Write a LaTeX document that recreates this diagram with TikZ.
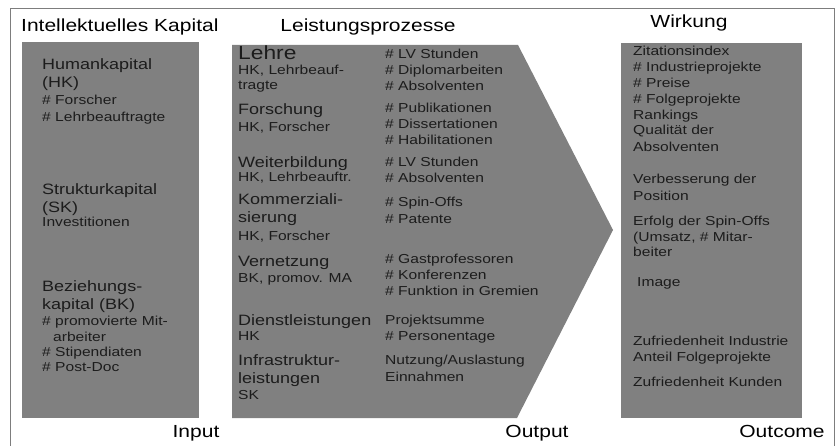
\documentclass[tikz,border=0pt]{standalone}
\usepackage{fontspec}
\setmainfont{Liberation Sans}[FakeStretch=1.2]
\usepackage{tikz}
\definecolor{feldgrau}{RGB}{128,128,128}
\definecolor{rahmengrau}{RGB}{125,125,125}
\definecolor{schrift}{RGB}{28,28,28}
\newcommand{\zeilen}[1]{\begin{tabular}[t]{@{}l@{}}#1\end{tabular}}
\tikzset{
  feld/.style={fill=feldgrau},
  rahmen/.style={draw=rahmengrau,line width=1pt},
  titel/.style={anchor=base,inner sep=0pt,text=black,font=\fontsize{17.5}{21}\selectfont},
  kopf/.style={anchor=base west,inner sep=0pt,text=schrift,font=\fontsize{15}{18}\selectfont},
  eintrag/.style={anchor=base west,inner sep=0pt,text=schrift,font=\fontsize{13}{#1}\selectfont},
  eintrag/.default=16,
}

\begin{document}
\begin{tikzpicture}[x=1pt,y=-1pt]
    \useasboundingbox (0,0) rectangle (838,446);
    \draw[rahmen] (10,446) |- (834,9) -- (834,446);
    \fill[feld] (22,42) rectangle (199,418);
    \fill[feld] (232,45) -- (518,45) -- (613,230) -- (517,418) -- (232,418) -- cycle;
    \fill[feld] (621,43) rectangle (802,418);

    \node[titel,anchor=base west] (kapital) at (21,32) {Intellektuelles Kapital};
    \node[titel] (prozesse) at (368,32) {Leistungsprozesse};
    \node[titel] (wirkung) at (689,28) {Wirkung};
    \node[titel] (input) at (196,437) {Input};
    \node[titel] (output) at (537,437) {Output};
    \node[titel] (outcome) at (782,437) {Outcome};

    \node[kopf] (hk) at (42,70) {\zeilen{Humankapital\\(HK)}};
    \node[eintrag=17] (hkliste) at (42,105) {\zeilen{\# Forscher\\\# Lehrbeauftragte}};
    \node[kopf] (sk) at (42,195) {\zeilen{Strukturkapital\\(SK)}};
    \node[eintrag] (skliste) at (42,227) {Investitionen};
    \node[kopf] (bk) at (42,292) {\zeilen{Beziehungs-\\kapital (BK)}};
    \node[eintrag=15.3] (bkliste) at (42,326)
      {\zeilen{\# promovierte Mit-\\\hspace{11pt}arbeiter\\\# Stipendiaten\\\# Post-Doc}};

    \node[kopf,font=\fontsize{19}{22}\selectfont] (lehre) at (238,59.5) {Lehre};
    \node[eintrag=15] (lehrein) at (238,75) {\zeilen{HK, Lehrbeauf-\\tragte}};
    \node[kopf] (forschung) at (238,115) {Forschung};
    \node[eintrag] (forschungein) at (238,132) {HK, Forscher};
    \node[kopf] (weiterbildung) at (238,168) {Weiterbildung};
    \node[eintrag] (weiterbildungein) at (238,182) {HK, Lehrbeauftr.};
    \node[kopf] (kommerz) at (238,205) {\zeilen{Kommerziali-\\sierung}};
    \node[eintrag] (kommerzein) at (238,241) {HK, Forscher};
    \node[kopf] (vernetzung) at (238,267) {Vernetzung};
    \node[eintrag] (vernetzungein) at (238,283) {BK, promov. MA};
    \node[kopf] (dienst) at (238,326) {Dienstleistungen};
    \node[eintrag] (dienstein) at (238,341) {HK};
    \node[kopf] (infra) at (238,365) {\zeilen{Infrastruktur-\\leistungen}};
    \node[eintrag] (infraein) at (238,399) {SK};

    \node[eintrag] (lehreaus) at (385,59) {\zeilen{\# LV Stunden\\\# Diplomarbeiten\\\# Absolventen}};
    \node[eintrag] (forschungaus) at (385,113) {\zeilen{\# Publikationen\\\# Dissertationen\\\# Habilitationen}};
    \node[eintrag] (weiterbildungaus) at (385,167) {\zeilen{\# LV Stunden\\\# Absolventen}};
    \node[eintrag=17] (kommerzaus) at (385,207) {\zeilen{\# Spin-Offs\\\# Patente}};
    \node[eintrag] (vernetzungaus) at (385,264) {\zeilen{\# Gastprofessoren\\\# Konferenzen\\\# Funktion in Gremien}};
    \node[eintrag] (dienstaus) at (385,325) {\zeilen{Projektsumme\\\# Personentage}};
    \node[eintrag=17] (infraaus) at (385,364) {\zeilen{Nutzung/Auslastung\\Einnahmen}};

    \node[eintrag=16] (zitation) at (633,56) {\zeilen{Zitationsindex\\\# Industrieprojekte\\\# Preise\\\# Folgeprojekte}};
    \node[eintrag] (rankings) at (633,120) {Rankings};
    \node[eintrag=17] (qualitaet) at (633,135) {\zeilen{Qualität der\\Absolventen}};
    \node[eintrag=17] (position) at (633,184) {\zeilen{Verbesserung der\\Position}};
    \node[eintrag=15.5] (erfolg) at (633,226) {\zeilen{Erfolg der Spin-Offs\\(Umsatz, \# Mitar-\\beiter}};
    \node[eintrag] (image) at (637,287) {Image};
    \node[eintrag] (zufriedenheit) at (633,345) {\zeilen{Zufriedenheit Industrie\\Anteil Folgeprojekte}};
    \node[eintrag] (kunden) at (633,386) {Zufriedenheit Kunden};
  \end{tikzpicture}
\end{document}
